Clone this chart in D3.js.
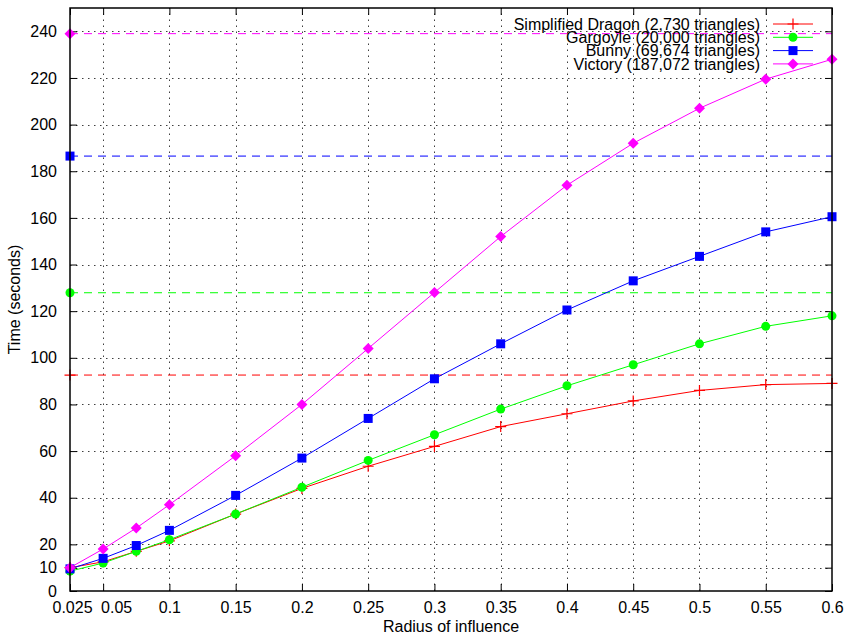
<!DOCTYPE html>
<html>
<head>
<meta charset="utf-8">
<script src="https://cdn.jsdelivr.net/npm/d3@7"></script>
<style>
  body { margin: 0; background: #fff; }
  svg { display: block; font-family: "Liberation Sans", Arial, sans-serif; }
  .tick-label { font-size: 16px; fill: #000; }
</style>
</head>
<body>
<svg width="847" height="634"></svg>
<script>
var width = 847,
    height = 634;

var margin = { top: 8, right: 15, bottom: 43, left: 70 };

// radius of influence
var radius = [0.025, 0.05, 0.075, 0.1, 0.15, 0.2, 0.25, 0.3, 0.35, 0.4, 0.45, 0.5, 0.55, 0.6];

// times in seconds
var dragonTimes   = [10, 12.5, 17, 21.5, 33, 44, 53.5, 62, 70.5, 76, 81.5, 86, 88.5, 89];
var gargoyleTimes = [8.5, 12, 17, 22, 33, 44.5, 56, 67, 78, 88, 97, 106, 113.5, 118];
var bunnyTimes    = [9.5, 14, 19.5, 26, 41, 57, 74, 91, 106, 120.5, 133, 143.5, 154, 160.5];
var victoryTimes  = [10, 18, 27, 37, 58, 80, 104, 128, 152, 174, 192, 207, 219.5, 228];

// single reference times drawn as dashed lines
var refTimes = [92.6, 127.9, 186.5, 239];

var seriesNames = [
    "Simplified Dragon (2,730 triangles)",
    "Gargoyle (20,000 triangles)",
    "Bunny (69,674 triangles)",
    "Victory (187,072 triangles)"
];
var seriesColors = ["#ff0000", "#00ff00", "#0000ff", "#ff00ff"];
var seriesMarkers = ["plus", "circle", "square", "diamond"];

var xTicks = [0.025, 0.05, 0.1, 0.15, 0.2, 0.25, 0.3, 0.35, 0.4, 0.45, 0.5, 0.55, 0.6];
var yTicks = [0, 10, 20, 40, 60, 80, 100, 120, 140, 160, 180, 200, 220, 240];

var allTimes = [dragonTimes, gargoyleTimes, bunnyTimes, victoryTimes];

var svg = d3.select("svg");

var x = d3.scaleLinear()
    .domain([0.025, 0.6])
    .range([margin.left, width - margin.right]);

var y = d3.scaleLinear()
    .domain([0, 250])
    .range([height - margin.bottom, margin.top]);

var x0 = x.range()[0], x1 = x.range()[1],
    y0 = y.range()[0], y1 = y.range()[1];

// grid
var grid = svg.append("g")
    .attr("stroke", "#000")
    .attr("stroke-width", 1)
    .attr("stroke-dasharray", "1.5,4.5")
    .attr("opacity", 0.75);

grid.selectAll(".vgrid")
    .data(xTicks.filter(function (d) { return d > 0.025 && d < 0.6; }))
    .enter()
    .append("line")
    .attr("x1", function (d) { return Math.round(x(d)) + 0.5; })
    .attr("x2", function (d) { return Math.round(x(d)) + 0.5; })
    .attr("y1", y0)
    .attr("y2", y1);

grid.selectAll(".hgrid")
    .data(yTicks.filter(function (d) { return d > 0; }))
    .enter()
    .append("line")
    .attr("x1", x0)
    .attr("x2", x1)
    .attr("y1", function (d) { return Math.round(y(d)) + 0.5; })
    .attr("y2", function (d) { return Math.round(y(d)) + 0.5; });

// axes: ticks pointing inward on all four sides
var tickLen = 7;

svg.append("g")
    .attr("transform", "translate(0," + y0 + ")")
    .call(d3.axisBottom(x).tickValues(xTicks).tickSizeInner(-tickLen).tickSizeOuter(0)
        .tickPadding(tickLen + 4).tickFormat(d3.format("")))
    .call(function (g) {
        g.select(".domain").remove();
        g.selectAll("text").attr("class", "tick-label").attr("font-size", null).attr("font-family", null);
        // the first two labels are crowded: nudge them apart
        g.selectAll("text")
            .filter(function (d) { return d === 0.05; })
            .attr("dx", 13);
        g.selectAll("text")
            .filter(function (d) { return d === 0.025; })
            .attr("dx", 2);
    });

svg.append("g")
    .attr("transform", "translate(0," + y1 + ")")
    .call(d3.axisTop(x).tickValues(xTicks).tickSizeInner(-tickLen).tickSizeOuter(0).tickFormat(""))
    .call(function (g) { g.select(".domain").remove(); });

svg.append("g")
    .attr("transform", "translate(" + x0 + ",0)")
    .call(d3.axisLeft(y).tickValues(yTicks).tickSizeInner(-tickLen).tickSizeOuter(0)
        .tickPadding(tickLen + 6).tickFormat(d3.format("")))
    .call(function (g) {
        g.select(".domain").remove();
        g.selectAll("text").attr("class", "tick-label").attr("font-size", null).attr("font-family", null);
    });

svg.append("g")
    .attr("transform", "translate(" + x1 + ",0)")
    .call(d3.axisRight(y).tickValues(yTicks).tickSizeInner(-tickLen).tickSizeOuter(0).tickFormat(""))
    .call(function (g) { g.select(".domain").remove(); });

// marker shapes
function drawMarker(sel, kind, color) {
    if (kind === "plus") {
        sel.append("path")
            .attr("d", "M-5.5,0H5.5M0,-5.5V5.5")
            .attr("stroke", color)
            .attr("stroke-width", 1.2)
            .attr("fill", "none");
    } else if (kind === "circle") {
        sel.append("circle").attr("r", 4.5).attr("fill", color);
    } else if (kind === "square") {
        sel.append("rect").attr("x", -4.5).attr("y", -4.5)
            .attr("width", 9).attr("height", 9).attr("fill", color);
    } else {
        sel.append("path").attr("d", "M0,-5.5L5.5,0L0,5.5L-5.5,0Z").attr("fill", color);
    }
}

var line = d3.line()
    .x(function (d) { return x(d[0]); })
    .y(function (d) { return y(d[1]); });

// dashed reference lines with a marker at the left edge
refTimes.forEach(function (t, i) {
    svg.append("line")
        .attr("x1", x0).attr("x2", x1)
        .attr("y1", y(t)).attr("y2", y(t))
        .attr("stroke", seriesColors[i])
        .attr("stroke-width", 1)
        .attr("stroke-dasharray", "8,6");
    svg.append("g")
        .attr("transform", "translate(" + x0 + "," + y(t) + ")")
        .call(drawMarker, seriesMarkers[i], seriesColors[i]);
});

// series
allTimes.forEach(function (times, i) {
    var pts = radius.map(function (r, j) { return [r, times[j]]; });
    svg.append("path")
        .datum(pts)
        .attr("d", line)
        .attr("fill", "none")
        .attr("stroke", seriesColors[i])
        .attr("stroke-width", 1);
    svg.append("g").selectAll("g")
        .data(pts)
        .enter()
        .append("g")
        .attr("transform", function (d) { return "translate(" + x(d[0]) + "," + y(d[1]) + ")"; })
        .each(function () { drawMarker(d3.select(this), seriesMarkers[i], seriesColors[i]); });
});

// border
svg.append("rect")
    .attr("x", x0).attr("y", y1)
    .attr("width", x1 - x0).attr("height", y0 - y1)
    .attr("fill", "none")
    .attr("stroke", "#000")
    .attr("stroke-width", 1.5);

// legend (rows overlap slightly, as in the original)
var legend = svg.append("g");
seriesNames.forEach(function (name, i) {
    var ly = 24 + i * 13.3;
    legend.append("text")
        .attr("x", 760)
        .attr("y", ly)
        .attr("dy", "0.35em")
        .attr("text-anchor", "end")
        .attr("font-size", 16)
        .text(name);
    legend.append("line")
        .attr("x1", 773).attr("x2", 813)
        .attr("y1", ly).attr("y2", ly)
        .attr("stroke", seriesColors[i])
        .attr("stroke-width", 1);
    legend.append("g")
        .attr("transform", "translate(793," + ly + ")")
        .call(drawMarker, seriesMarkers[i], seriesColors[i]);
});

// axis titles
svg.append("text")
    .attr("x", (x0 + x1) / 2)
    .attr("y", 632)
    .attr("text-anchor", "middle")
    .attr("font-size", 16)
    .text("Radius of influence");

svg.append("text")
    .attr("transform", "translate(20," + (y0 + y1) / 2 + ") rotate(-90)")
    .attr("text-anchor", "middle")
    .attr("font-size", 16)
    .text("Time (seconds)");
</script>
</body>
</html>
